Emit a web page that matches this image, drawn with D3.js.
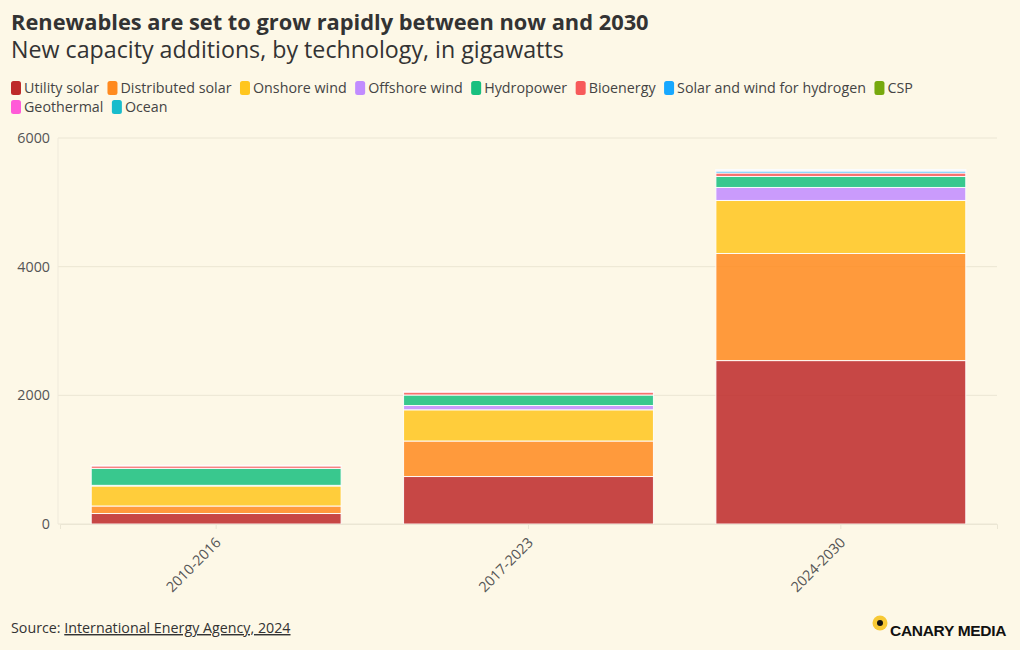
<!DOCTYPE html>
<html>
<head>
<meta charset="utf-8">
<script src="https://cdn.jsdelivr.net/npm/d3@7"></script>
<style>
  html, body { margin: 0; padding: 0; background: #fdf8e7; }
  svg { display: block; font-family: "Open Sans", "Noto Sans", sans-serif; }
</style>
</head>
<body>
<svg id="chart" width="1020" height="650"></svg>
<script>
// ---- data ----
const periods = ["2010-2016", "2017-2023", "2024-2030"];
const technologies = ["Utility solar", "Distributed solar", "Onshore wind", "Offshore wind", "Hydropower", "Bioenergy", "Solar and wind for hydrogen", "CSP", "Geothermal", "Ocean"];
const utilitySolar     = [163, 738, 2540];
const distributedSolar = [117, 552, 1665];
const onshoreWind      = [311, 485, 824];
const offshoreWind     = [10, 67, 202];
const hydropower       = [264, 163, 171];
const bioenergy        = [39, 47, 54];
const solarWindH2      = [0, 3, 30];
const csp              = [2, 3, 6];
const geothermal       = [4, 6, 15];
const ocean            = [0, 0, 2];
const yTicks = [0, 2000, 4000, 6000];
const colors = ["#be2a2a", "#ff8a1f", "#ffc61e", "#c18cff", "#18c07f", "#f75a5a", "#17a8ff", "#77a90e", "#ff5ad8", "#18bccc"];

const seriesValues = [utilitySolar, distributedSolar, onshoreWind, offshoreWind, hydropower, bioenergy, solarWindH2, csp, geothermal, ocean];
const table = periods.map((p, i) => {
  const row = { period: p };
  technologies.forEach((t, j) => row[t] = seriesValues[j][i]);
  return row;
});

const svg = d3.select("#chart");
const W = 1020, H = 650;
const bg = "#fdf8e7";
svg.append("rect").attr("width", W).attr("height", H).attr("fill", bg);

// fit helper: scale font size so text reaches a target width
function fitWidth(sel, target) {
  const w = sel.node().getComputedTextLength();
  const fs = parseFloat(sel.attr("font-size"));
  sel.attr("font-size", fs * target / w);
}

// ---- titles ----
const title = svg.append("text").attr("x", 11).attr("y", 30)
  .attr("font-size", 22).attr("font-weight", 700).attr("fill", "#333")
  .text("Renewables are set to grow rapidly between now and 2030");
fitWidth(title, 638);
const sub = svg.append("text").attr("x", 11).attr("y", 57.5)
  .attr("font-size", 22).attr("font-weight", 400).attr("fill", "#333")
  .text("New capacity additions, by technology, in gigawatts");
fitWidth(sub, 553);

// ---- legend ----
const color = d3.scaleOrdinal().domain(technologies).range(colors);
const legend = svg.append("g");
let lx = 11, ly = 88;
const probe = svg.append("text").attr("font-size", 14).text("Solar and wind for hydrogen");
const legendFs = 14 * 189 / probe.node().getComputedTextLength();
probe.remove();
technologies.forEach(t => {
  const g = legend.append("g");
  g.append("rect").attr("width", 10).attr("height", 14).attr("rx", 2.5)
    .attr("fill", color(t));
  const txt = g.append("text").attr("x", 13).attr("y", 7).attr("dy", "0.35em")
    .attr("font-size", legendFs).attr("fill", "#444").text(t);
  const w = 13 + txt.node().getComputedTextLength();
  if (lx + w > 970) { lx = 11; ly += 19; }
  g.attr("transform", `translate(${lx},${ly - 7})`);
  lx += w + 8.5;
});

// ---- scales ----
const plot = { left: 60, right: 997, top: 138, bottom: 524 };
const x = d3.scaleBand().domain(periods).range([plot.left, plot.right])
  .paddingInner(0.2).paddingOuter(0.1);
const y = d3.scaleLinear().domain([0, 6000]).range([plot.bottom, plot.top]);

// gridlines
svg.append("g").selectAll("line").data(yTicks).join("line")
  .attr("x1", plot.left - 2).attr("x2", plot.right)
  .attr("y1", d => y(d)).attr("y2", d => y(d))
  .attr("stroke", "#ebe6d4").attr("stroke-width", 1);
svg.append("line").attr("x1", plot.left - 2).attr("x2", plot.left - 2)
  .attr("y1", plot.top).attr("y2", plot.bottom)
  .attr("stroke", "#efeadb");

// y axis
const yAxis = svg.append("g").attr("transform", `translate(${plot.left - 10},0)`)
  .call(d3.axisLeft(y).tickValues(yTicks).tickSize(0).tickPadding(0).tickFormat(d3.format("d")));
yAxis.select(".domain").remove();
yAxis.selectAll("text").attr("font-size", legendFs).attr("fill", "#555")
  .attr("font-family", "Open Sans, sans-serif");

// stacked bars
const stack = d3.stack().keys(technologies);
const stacked = stack(table);
svg.append("g").selectAll("g").data(stacked).join("g")
  .attr("fill", d => color(d.key)).attr("fill-opacity", 0.86)
  .selectAll("rect").data(d => d).join("rect")
  .attr("x", d => x(d.data.period))
  .attr("width", x.bandwidth())
  .attr("y", d => y(d[1]))
  .attr("height", d => Math.max(0, y(d[0]) - y(d[1])))
  .attr("stroke", "#ffffff").attr("stroke-width", 1).attr("stroke-opacity", 0.9);

// x axis
const xAxis = svg.append("g").attr("transform", `translate(0,${plot.bottom})`)
  .call(d3.axisBottom(x).tickSize(5).tickPadding(6));
xAxis.select(".domain").attr("stroke", "#ebe6d4");
xAxis.selectAll(".tick line").attr("stroke", "#ebe6d4");
xAxis.selectAll("text").attr("font-size", legendFs).attr("fill", "#555")
  .attr("font-family", "Open Sans, sans-serif")
  .attr("text-anchor", "end")
  .attr("y", 0).attr("dy", "0.35em")
  .attr("transform", "translate(2,16) rotate(-45)");

// ---- footer ----
const src = svg.append("text").attr("x", 11).attr("y", 633)
  .attr("font-size", legendFs).attr("fill", "#333");
src.append("tspan").text("Source: ");
src.append("tspan").attr("text-decoration", "underline").text("International Energy Agency, 2024");

const logo = svg.append("g").attr("transform", "translate(880,623)");
logo.append("circle").attr("r", 7.5).attr("fill", "#f7c935");
logo.append("circle").attr("r", 3).attr("cx", 0).attr("cy", 0).attr("fill", "#111");
svg.append("text").attr("x", 890).attr("y", 636)
  .attr("font-size", 15.5).attr("font-weight", 700).attr("fill", "#111")
  .attr("font-family", "Liberation Sans, Arial, sans-serif")
  .attr("letter-spacing", -0.3)
  .text("CANARY MEDIA");
</script>
</body>
</html>
